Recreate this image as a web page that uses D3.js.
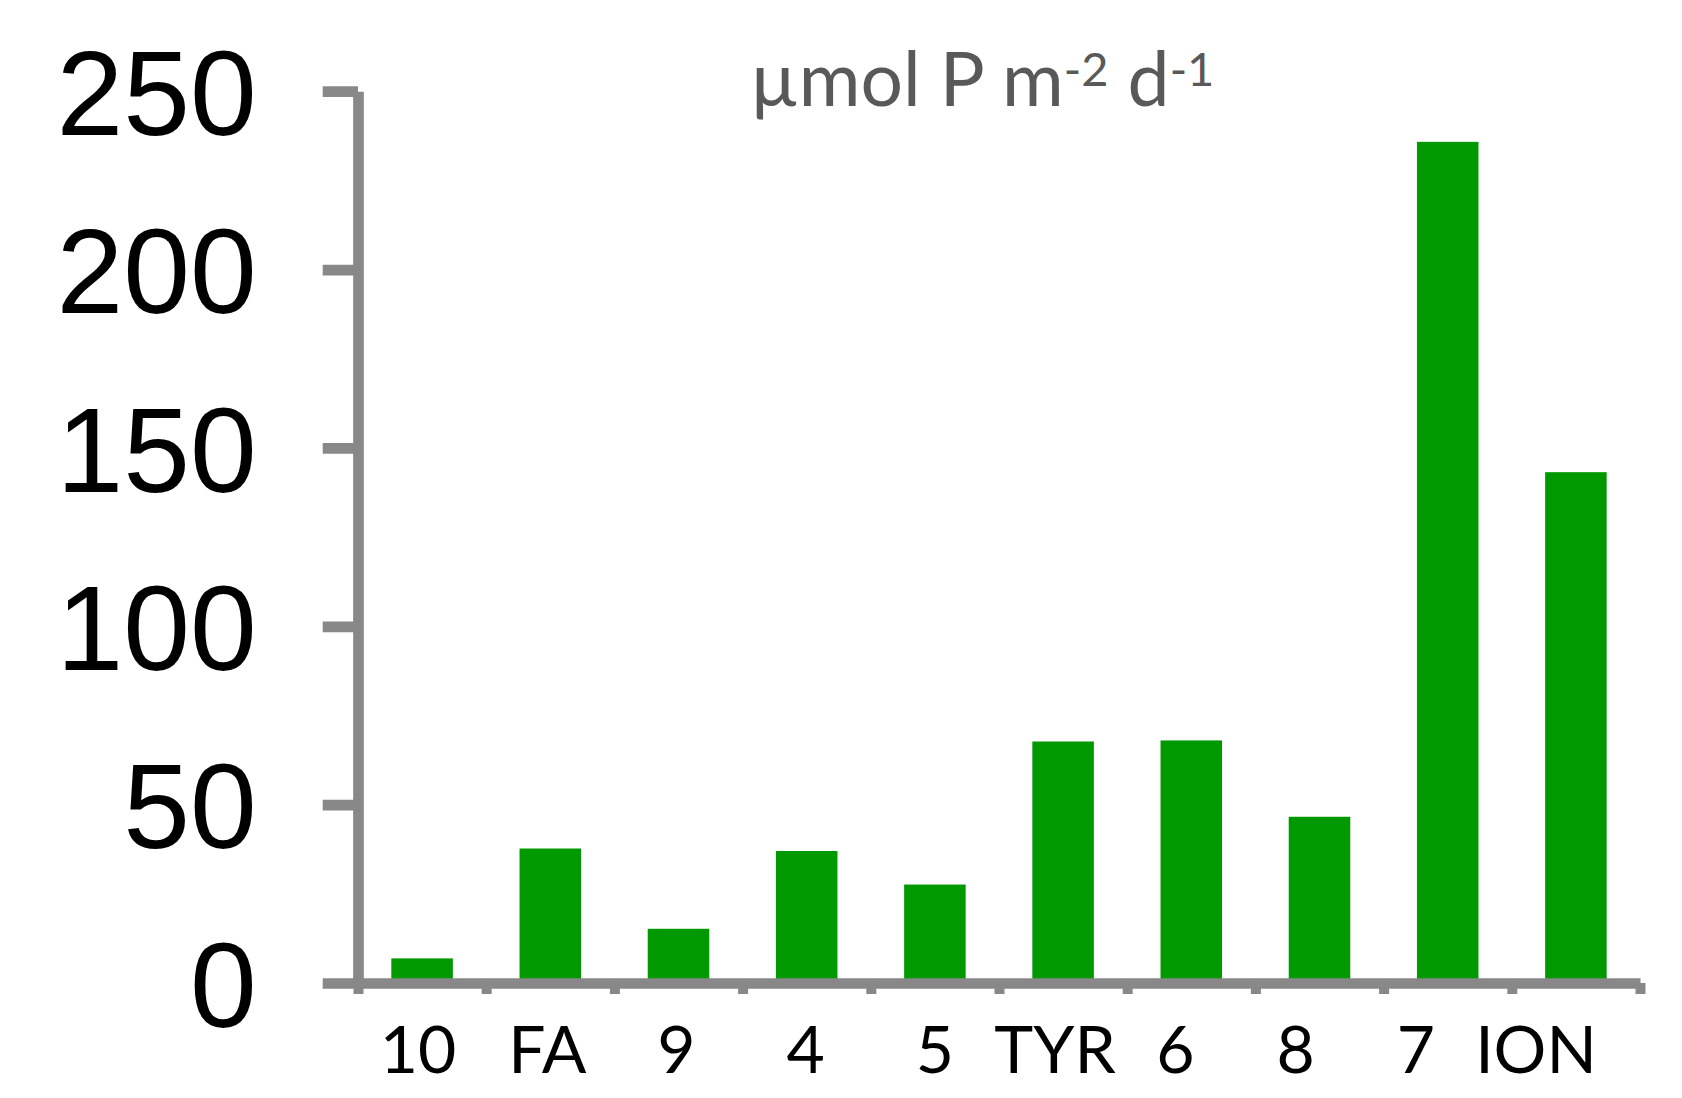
<!DOCTYPE html>
<html>
<head>
<meta charset="UTF-8">
<title>µmol P m-2 d-1</title>
<script src="https://d3js.org/d3.v7.min.js"></script>
<style>
  body { margin: 0; background: #fff; }
</style>
</head>
<body>
<div id="chart"></div>
<script>
// data
var categories = ["10", "FA", "9", "4", "5", "TYR", "6", "8", "7", "ION"];
var values = [6.9, 37.7, 15.2, 37.0, 27.6, 67.7, 68.0, 46.6, 235.8, 143.2];
var yTicks = [0, 50, 100, 150, 200, 250];

var width = 1682, height = 1098;
var plotLeft = 358, plotRight = 1640, plotTop = 91.2, plotBottom = 983;
var axisColor = "#888888", axisWidth = 10.7;

var svg = d3.select("#chart")
  .append("svg")
    .attr("width", width)
    .attr("height", height);

var x = d3.scaleBand()
  .domain(categories)
  .range([plotLeft, plotRight])
  .paddingInner(0.52)
  .paddingOuter(0.26);

var y = d3.scaleLinear()
  .domain([0, 250])
  .range([plotBottom, plotTop]);

// bars
svg.append("g")
  .selectAll("rect")
  .data(values)
  .enter()
  .append("rect")
    .attr("x", function(d, i) { return x(categories[i]); })
    .attr("y", function(d) { return y(d); })
    .attr("width", x.bandwidth())
    .attr("height", function(d) { return y(0) - y(d); })
    .attr("fill", "#009900");

// x axis: ticks sit between the categories
var xEdge = d3.scaleLinear().domain([0, categories.length]).range([plotLeft, plotRight]);
var gx = svg.append("g")
  .attr("transform", "translate(0," + plotBottom + ")")
  .call(d3.axisBottom(xEdge)
    .tickValues(d3.range(categories.length + 1))
    .tickSize(11)
    .tickSizeOuter(0)
    .tickFormat(""));
gx.select(".domain").attr("stroke", axisColor).attr("stroke-width", axisWidth);
gx.selectAll(".tick line").attr("stroke", axisColor).attr("stroke-width", 10);

// y axis
var gy = svg.append("g")
  .attr("transform", "translate(" + plotLeft + ",0)")
  .call(d3.axisLeft(y)
    .tickValues(yTicks)
    .tickSize(35.3)
    .tickSizeOuter(0)
    .tickPadding(66));
gy.select(".domain").attr("stroke", axisColor).attr("stroke-width", axisWidth);
gy.selectAll(".tick line").attr("stroke", axisColor).attr("stroke-width", axisWidth);
gy.selectAll(".tick text")
  .attr("dy", "0.36em")
  .attr("fill", "#000")
  .style("font-family", "'Liberation Sans', Arial, sans-serif")
  .style("font-size", "120px");

// category labels: typed as one row of text in the original, so the
// right-hand ones drift left of their bars
var center = function(c) { return x(c) + x.bandwidth() / 2; };
var xLabel = d3.scaleLinear()
  .domain([0, 4, categories.length - 1])
  .range([center(categories[0]) - 4, center(categories[4]), 1536]);
svg.append("g")
  .selectAll("text")
  .data(categories)
  .enter()
  .append("text")
    .attr("x", function(d, i) { return xLabel(i); })
    .attr("y", 1072.7)
    .attr("text-anchor", "middle")
    .attr("fill", "#000")
    .style("font-family", "Lato, sans-serif")
    .style("font-size", "66px")
    .text(function(d) { return d; });

// unit title
var title = svg.append("text")
  .attr("x", 750)
  .attr("y", 106)
  .attr("fill", "#595959")
  .style("font-family", "Lato, sans-serif")
  .style("font-size", "75px");
title.append("tspan").text("µmol P m");
title.append("tspan").attr("dy", -20).style("font-size", "47px").text("-2");
title.append("tspan").attr("dy", 20).text(" d");
title.append("tspan").attr("dy", -20).style("font-size", "47px").text("-1");
</script>
</body>
</html>
